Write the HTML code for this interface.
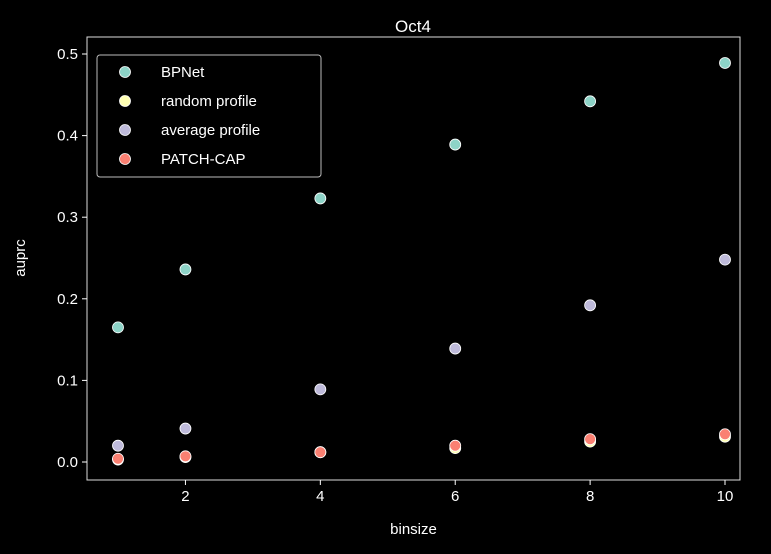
<!DOCTYPE html>
<html><head><meta charset="utf-8"><style>
html,body{margin:0;padding:0;background:#000;}
svg{display:block;font-family:"Liberation Sans","DejaVu Sans",sans-serif;}
</style></head><body>
<svg id="chart" width="771" height="554" viewBox="0 0 771 554">
<rect width="771" height="554" fill="#000"/>
<text x="413" y="32" fill="#fff" font-size="17" text-anchor="middle">Oct4</text>
<g id="axes"></g>
<g id="marks"></g>
<g id="legend">
<rect x="97" y="55" width="224" height="122" rx="3" fill="#000" stroke="#bbb" stroke-width="1"/>
</g>
</svg>
<script>
const binsizes=[1,2,4,6,8,10];
const bpnet=[0.165,0.236,0.323,0.389,0.442,0.489];
const randomProfile=[0.003,0.006,0.012,0.017,0.025,0.031];
const averageProfile=[0.020,0.041,0.089,0.139,0.192,0.248];
const patchCap=[0.004,0.007,0.012,0.020,0.028,0.034];
const xTicks=[2,4,6,8,10];
const yTicks=[0.0,0.1,0.2,0.3,0.4,0.5];
const seriesNames=["BPNet","random profile","average profile","PATCH-CAP"];
const seriesColors=["#8dd3c7","#ffffb3","#bebada","#fa8072"];
const seriesData=[bpnet,randomProfile,averageProfile,patchCap];

const NS="http://www.w3.org/2000/svg";
const L=87,R=740,T=37,B=480;
function xs(v){return 118+(v-1)*(725-118)/9;}
function ys(v){return 462-v*(462-54)/0.5;}
function mk(tag,attrs,parent){const e=document.createElementNS(NS,tag);for(const k in attrs)e.setAttribute(k,attrs[k]);parent.appendChild(e);return e;}
const axes=document.getElementById('axes');
const frame=mk('rect',{x:L,y:T,width:R-L,height:B-T,fill:'none',stroke:'#ddd','stroke-width':1},axes);


xTicks.forEach(t=>{
  const x=xs(t);
  const tk=mk('line',{x1:x,x2:x,y1:B,y2:B+5,stroke:'#fff'},axes);
  
  
  const tx=mk('text',{x:x,y:B+21,fill:'#fff','font-size':15,'text-anchor':'middle'},axes);
  tx.textContent=t;
  
  
});
yTicks.forEach(t=>{
  const y=ys(t);
  const tk=mk('line',{x1:L-5,x2:L,y1:y,y2:y,stroke:'#fff'},axes);
  
  
  const tx=mk('text',{x:L-9,y:y+5,fill:'#fff','font-size':15,'text-anchor':'end'},axes);
  tx.textContent=t.toFixed(1);
  
  
});
const xl=mk('text',{x:(L+R)/2,y:534,fill:'#fff','font-size':15,'text-anchor':'middle'},axes);
xl.textContent='binsize';


const yl=mk('text',{x:0,y:0,fill:'#fff','font-size':15,'text-anchor':'middle',transform:'translate(25,258) rotate(-90)'},axes);
yl.textContent='auprc';


const marks=document.getElementById('marks');
seriesData.forEach((arr,si)=>{
  arr.forEach((v,i)=>{
    const c=mk('circle',{cx:xs(binsizes[i]),cy:ys(v),r:5.5,fill:seriesColors[si],stroke:'#fff','stroke-width':0.8},marks);
    
    
  });
});
const lg=document.getElementById('legend');
seriesNames.forEach((n,i)=>{
  const y=72+i*29;
  const c=mk('circle',{cx:125,cy:y,r:5.5,fill:seriesColors[i],stroke:'#fff','stroke-width':0.8},lg);
  
  
  const t=mk('text',{x:161,y:y+5,fill:'#fff','font-size':15},lg);
  t.textContent=n;
  
  
});
</script>
</body></html>
